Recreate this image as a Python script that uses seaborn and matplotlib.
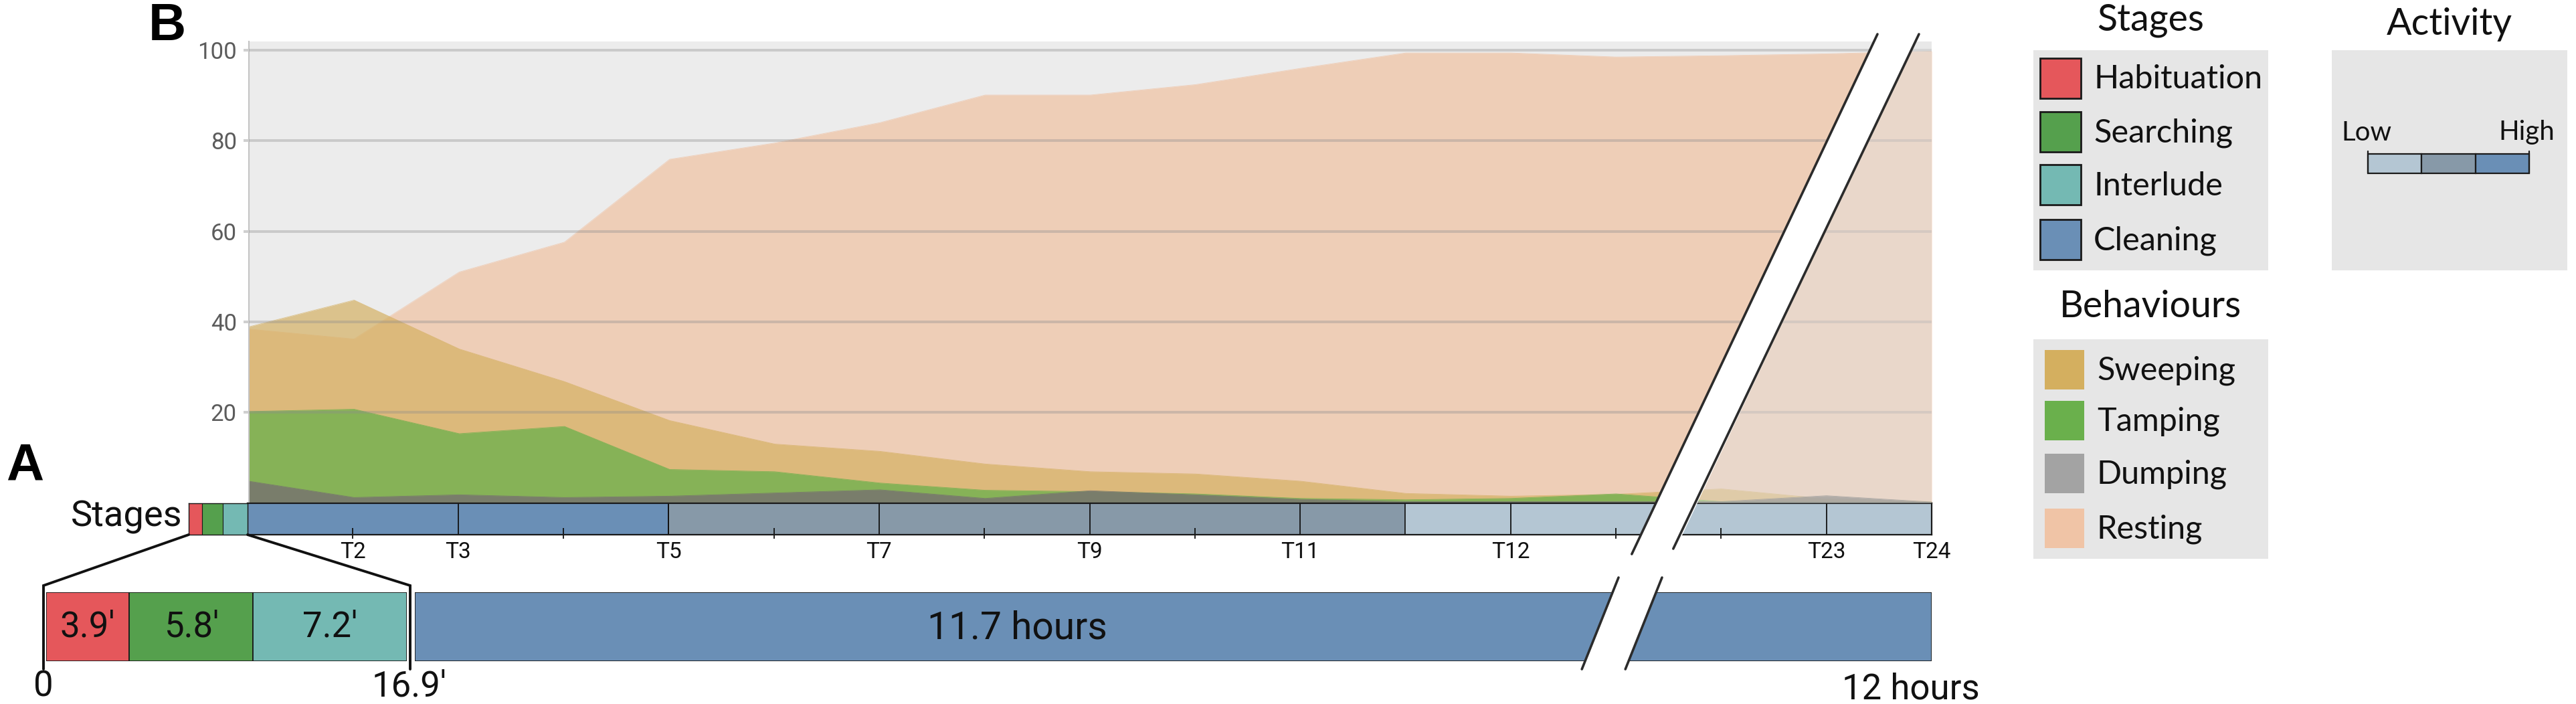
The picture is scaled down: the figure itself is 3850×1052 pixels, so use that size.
import matplotlib
matplotlib.use("Agg")
import matplotlib.pyplot as plt
from matplotlib import font_manager
from matplotlib.patches import Rectangle, Polygon
import numpy as np
import pandas as pd
import seaborn as sns

# ---------------- data ----------------
time_index = list(range(17))
resting  = [38.4, 36.2, 51.0, 57.6, 75.9, 79.5, 84.0, 90.1, 90.1, 92.4, 96.0, 99.4, 99.4, 98.5, 98.8, 99.2, 99.8]
sweeping = [38.9, 44.8, 34.0, 26.8, 18.2, 13.0, 11.4, 8.6, 6.9, 6.4, 4.8, 2.1, 1.5, 1.9, 3.1, 0.9, 0.3]
tamping  = [20.2, 20.7, 15.3, 16.9, 7.4, 6.9, 4.4, 2.8, 2.5, 2.0, 1.0, 0.7, 1.0, 2.0, 0.3, 0.2, 0.1]
dumping  = [4.8, 1.2, 1.8, 1.2, 1.5, 2.2, 2.9, 1.0, 2.7, 1.8, 0.8, 0.3, 0.3, 0.3, 0.3, 1.6, 0.2]
y_ticks = [20, 40, 60, 80, 100]
t_tick_pos = [1, 2, 4, 6, 8, 10, 12, 15, 16]
t_tick_labels = ["T2", "T3", "T5", "T7", "T9", "T11", "T12", "T23", "T24"]
major_marks = [2, 4, 6, 8, 10, 12, 15]
minor_marks = [1, 3, 5, 7, 9, 13, 14]
activity_edges = [0, 4, 11, 16]
activity_of_segment = ["High", "Medium", "Low"]
activity_levels = ["Low", "Medium", "High"]
stage_names = ["Habituation", "Searching", "Interlude", "Cleaning"]
prelude_stages = ["Habituation", "Searching", "Interlude"]
prelude_minutes = [3.9, 5.8, 7.2]
prelude_text = ["3.9\u2032", "5.8\u2032", "7.2\u2032"]
prelude_total_text = "16.9\u2032"
cleaning_hours = 11.7
cleaning_text = "11.7 hours"
total_text = "12 hours"
behaviour_names = ["Sweeping", "Tamping", "Dumping", "Resting"]

# ---------------- styles ----------------
stage_colors = {"Habituation": "#e5575b", "Searching": "#55a04d",
                "Interlude": "#74b9b3", "Cleaning": "#6a8fb6"}
activity_colors = {"Low": "#b4c6d3", "Medium": "#8799a8", "High": "#6a8fb6"}
behaviour_colors = {"Sweeping": "#d4af5f", "Tamping": "#6ab04c",
                    "Dumping": "#a3a3a3", "Resting": "#f0c4a6"}
area_style = {"Resting": ("#f0c4a6", 0.75), "Sweeping": ("#d4af5f", 0.68),
              "Tamping": ("#6ab04c", 0.75), "Dumping": ("#77746f", 0.85)}

sns.set_theme(style="white")
avail = {f.name for f in font_manager.fontManager.ttflist}
def pick(*names):
    for n in names:
        if n in avail:
            return n
    return "DejaVu Sans"
NARROW = pick("Liberation Sans Narrow", "Roboto", "Lato")
SANS = pick("Lato", "Open Sans", "Noto Sans")
plt.rcParams["font.family"] = [SANS, "DejaVu Sans"]
NF = [NARROW, "DejaVu Sans"]

W, H = 3850, 1052
fig = plt.figure(figsize=(W / 100, H / 100), dpi=100)

def ax_px(x0, y0, x1, y1, **kw):
    return fig.add_axes([x0 / W, 1 - y1 / H, (x1 - x0) / W, (y1 - y0) / H], **kw)

# ---------------- area chart (B) ----------------
ax = ax_px(372, 61.5, 2887, 751.5)
ax.set_facecolor("#ececec")
series = {"Resting": resting, "Sweeping": sweeping, "Tamping": tamping, "Dumping": dumping}
df = pd.DataFrame({"t": time_index, **series})
for name in ["Resting", "Sweeping", "Tamping", "Dumping"]:
    col, a = area_style[name]
    ax.fill_between(df["t"], 0, df[name], color=col, alpha=a, lw=0, zorder=1)
    sns.lineplot(x=df["t"], y=df[name], ax=ax, color=col, alpha=a, lw=0.6, zorder=1)
ax.set_xlim(0, 16)
ax.set_ylim(0, 102)
ax.set_yticks(y_ticks)
ax.set_yticklabels([str(v) for v in y_ticks], family=NF, fontsize=25, color="#5c5c5c")
ax.set_xticks([])
ax.set_axisbelow(False)
ax.yaxis.grid(True, color="#8c8c8c", alpha=0.35, lw=2.9)
ax.xaxis.grid(False)
ax.tick_params(axis="y", left=True, length=6, width=2.9, color="#cfcfcf", pad=7)
ax.set_xlabel("")
ax.set_ylabel("")
for s in ["top", "right", "bottom"]:
    ax.spines[s].set_visible(False)
ax.spines["left"].set_color("#c4c4c4")
ax.spines["left"].set_linewidth(1.5)

# ---------------- stage bar ----------------
sax = ax_px(370, 752, 2887, 799)
for i, lvl in enumerate(activity_of_segment):
    sax.barh(0.5, activity_edges[i + 1] - activity_edges[i], left=activity_edges[i],
             height=1, color=activity_colors[lvl], edgecolor="#1a1a1a", lw=1.2)
sax.vlines(major_marks, 0, 1, color="#111111", lw=1.3)
sax.vlines(minor_marks, -0.12, 0.22, color="#111111", lw=1.3, clip_on=False)
sax.set_xlim(0, 16)
sax.set_ylim(0, 1)
sax.set_yticks([])
sax.set_xticks(t_tick_pos)
sax.set_xticklabels(t_tick_labels, family=NF, fontsize=24, color="#111111")
sax.tick_params(axis="x", length=0, pad=7)
for s in sax.spines.values():
    s.set_color("#1a1a1a")
    s.set_linewidth(1.6)

pax = ax_px(282, 752, 370, 799)
lefts = np.concatenate([[0], np.cumsum(prelude_minutes)[:-1]])
for st, l, d in zip(prelude_stages, lefts, prelude_minutes):
    pax.barh(0.5, d, left=l, height=1, color=stage_colors[st], edgecolor="#1a1a1a", lw=0.8)
pax.set_xlim(0, sum(prelude_minutes))
pax.set_ylim(0, 1)
pax.set_xticks([]); pax.set_yticks([])
for s in pax.spines.values():
    s.set_color("#1a1a1a"); s.set_linewidth(1.0)

# ---------------- bottom bar (A) ----------------
bpax = ax_px(69, 885, 608, 988)
for st, l, d, txt in zip(prelude_stages, lefts, prelude_minutes, prelude_text):
    bpax.barh(0.5, d, left=l, height=1, color=stage_colors[st], edgecolor="#1a1a1a", lw=1.3)
    bpax.text(l + d / 2, 0.5, txt, ha="center", va="center", family=NF, fontsize=38, color="#111111")
bpax.set_xlim(0, sum(prelude_minutes)); bpax.set_ylim(0, 1)
bpax.set_xticks([]); bpax.set_yticks([])
for s in bpax.spines.values():
    s.set_visible(False)

bcax = ax_px(620, 885, 2887, 988)
bcax.barh(0.5, cleaning_hours, left=0, height=1, color=stage_colors["Cleaning"],
          edgecolor="#1a1a1a", lw=1.3)
bcax.text(0.397, 0.48, cleaning_text, transform=bcax.transAxes, ha="center", va="center",
          family=NF, fontsize=41, color="#111111")
bcax.set_xlim(0, cleaning_hours); bcax.set_ylim(0, 1)
bcax.set_xticks([]); bcax.set_yticks([])
for s in bcax.spines.values():
    s.set_visible(False)

# ---------------- overlay: annotations, breaks, legends ----------------
ov = fig.add_axes([0, 0, 1, 1], zorder=10)
ov.set_xlim(0, W); ov.set_ylim(H, 0); ov.axis("off"); ov.patch.set_alpha(0)

# tint right of break
slope = -0.4726
def xr(y, x0=2868, y0=51):
    return x0 + slope * (y - y0)
ov.add_patch(Polygon([(xr(61.5), 61.5), (2887, 61.5), (2887, 751.5), (xr(751.5), 751.5)],
                     closed=True, facecolor="#e4e4e4", alpha=0.43, lw=0))

# upper break stripe
yt, yb = 51, 828
Lt, Lb = (2806, yt), (2806 + slope * (yb - yt), yb)
Rt, Rb = (2868, yt), (2868 + slope * (yb - yt), yb)
ov.add_patch(Polygon([Lt, Rt, Rb, Lb], closed=True, facecolor="white", lw=0))
ov.plot([Lt[0], Lb[0]], [Lt[1], Lb[1]], color="#2b2b2b", lw=2.6, solid_capstyle="round")
ov.plot([Rt[0], Rb[0]], [Rt[1], Rb[1] - 8], color="#2b2b2b", lw=2.6, solid_capstyle="round")

# lower break stripe
s2 = -0.40
yt2, yb2 = 863, 1000
L2t, L2b = (2419, yt2), (2419 + s2 * (yb2 - yt2), yb2)
R2t, R2b = (2484, yt2), (2484 + s2 * (yb2 - yt2), yb2)
ov.add_patch(Polygon([L2t, R2t, R2b, L2b], closed=True, facecolor="white", lw=0))
ov.plot([L2t[0], L2b[0]], [L2t[1], L2b[1]], color="#2b2b2b", lw=2.6)
ov.plot([R2t[0], R2b[0]], [R2t[1], R2b[1]], color="#2b2b2b", lw=2.6)

# zoom lines
ov.plot([282, 65, 65], [799, 875, 1000], color="#111111", lw=2.8, solid_joinstyle="miter")
ov.plot([370, 613, 613], [799, 875, 1000], color="#111111", lw=2.8, solid_joinstyle="miter")

# text labels
ov.text(272, 772, "Stages", ha="right", va="center", family=NF, fontsize=39, color="#111111")
ov.text(65, 1026, "0", ha="center", va="center", family=NF, fontsize=38, color="#111111")
ov.text(612, 1026, prelude_total_text, ha="center", va="center", family=NF, fontsize=38, color="#111111")
ov.text(2856, 1030, total_text, ha="center", va="center", family=NF, fontsize=38, color="#111111")
ov.text(250, 40, "B", ha="center", va="center", family=["Liberation Sans", "DejaVu Sans"],
        fontsize=56, fontweight="bold", color="black")
ov.text(37, 697, "A", ha="center", va="center", family=["Liberation Sans", "DejaVu Sans"],
        fontsize=56, fontweight="bold", color="black")

# legend: Stages
LEG_BG = "#e6e6e6"
ov.add_patch(Rectangle((3039, 75), 351, 329, facecolor=LEG_BG, lw=0))
ov.text(3214, 30, "Stages", ha="center", va="center", fontsize=40, color="#111111")
for name, yc in zip(stage_names, [116.5, 197, 276, 358]):
    ov.add_patch(Rectangle((3049, yc - 30), 61, 60, facecolor=stage_colors[name],
                           edgecolor="#1a1a1a", lw=2))
    ov.text(3129, yc + 2, name, ha="left", va="center", fontsize=35, color="#111111")

# legend: Behaviours
ov.add_patch(Rectangle((3039, 507), 351, 328, facecolor=LEG_BG, lw=0))
ov.text(3214, 458, "Behaviours", ha="center", va="center", fontsize=40, color="#111111")
for name, yc in zip(behaviour_names, [552, 628, 707, 789]):
    ov.add_patch(Rectangle((3056, yc - 29.5), 59, 59, facecolor=behaviour_colors[name], lw=0))
    ov.text(3134, yc + 2, name, ha="left", va="center", fontsize=35, color="#111111")

# legend: Activity
ov.add_patch(Rectangle((3485, 75), 352, 329, facecolor=LEG_BG, lw=0))
ov.text(3661, 36, "Activity", ha="center", va="center", fontsize=40, color="#111111")
ov.text(3499, 198, activity_levels[0], ha="left", va="center", fontsize=29, color="#111111")
ov.text(3818, 198, activity_levels[-1], ha="right", va="center", fontsize=29, color="#111111")
seg_w = (3780 - 3539) / len(activity_levels)
for i, lvl in enumerate(activity_levels):
    ov.add_patch(Rectangle((3539 + i * seg_w, 230), seg_w, 29, facecolor=activity_colors[lvl],
                           edgecolor="#1a1a1a", lw=1.6))
ov.plot([3539, 3539], [226, 259], color="#1a1a1a", lw=1.6)
ov.plot([3780, 3780], [226, 259], color="#1a1a1a", lw=1.6)

fig.savefig("out.png", dpi=100, facecolor="white")
